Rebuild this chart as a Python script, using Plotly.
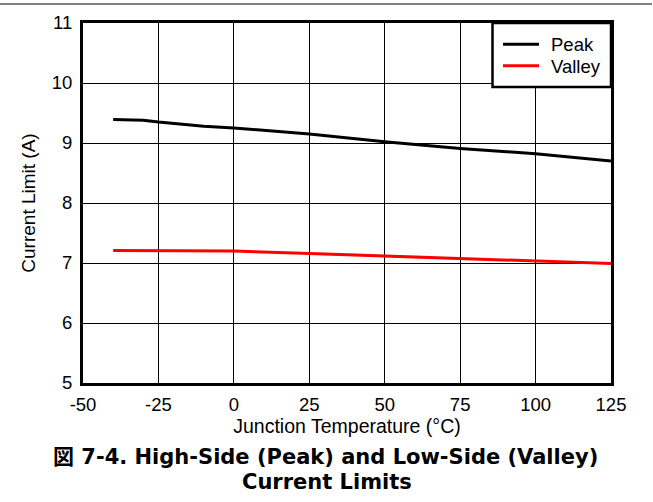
import plotly.graph_objects as go

temp = [-40, -30, -25, -10, 0, 25, 50, 75, 100, 125]
peak = [9.39, 9.38, 9.35, 9.28, 9.25, 9.15, 9.02, 8.91, 8.82, 8.70]
valley_temp = [-40, -20, 0, 25, 50, 75, 100, 125]
valley = [7.21, 7.21, 7.2, 7.16, 7.12, 7.07, 7.03, 6.99]

series_names = ["Peak", "Valley"]
series_colors = ["black", "#ff0000"]

x_ticks = [-50, -25, 0, 25, 50, 75, 100, 125]
y_ticks = [5, 6, 7, 8, 9, 10, 11]

FONT = "Arial, 'Liberation Sans', 'Noto Sans CJK JP', sans-serif"
TFONT = "'DejaVu Sans', 'Noto Sans CJK JP', sans-serif"

# plot area in page pixels
L, R, T, B = 83, 611, 23, 383
W, H = 653, 502
def px(p):
    return (p - L) / (R - L)
def py(p):
    return (B - p) / (B - T)

fig = go.Figure()
fig.add_trace(go.Scatter(x=temp, y=peak, mode="lines", name=series_names[0],
                         line=dict(color=series_colors[0], width=3)))
fig.add_trace(go.Scatter(x=valley_temp, y=valley, mode="lines", name=series_names[1],
                         line=dict(color=series_colors[1], width=3)))

shapes = [
    # gray rule at the top of the page
    dict(type="line", xref="paper", yref="paper", x0=px(0), x1=px(652), y0=py(4), y1=py(4),
         line=dict(color="#808080", width=2)),
    # legend box
    dict(type="rect", xref="paper", yref="paper", x0=px(492.5), x1=px(611), y0=py(87), y1=py(23),
         line=dict(color="black", width=2.5), fillcolor="white", layer="above"),
]
annotations = []
for i, (nm, col) in enumerate(zip(series_names, series_colors)):
    yc = 44.3 + i * 21.5
    shapes.append(dict(type="line", xref="paper", yref="paper", x0=px(503), x1=px(539),
                       y0=py(yc), y1=py(yc), line=dict(color=col, width=3), layer="above"))
    annotations.append(dict(text=nm, xref="paper", yref="paper", x=px(549), y=py(yc + 0.5),
                            xanchor="left", yanchor="middle", showarrow=False,
                            font=dict(size=18.5, family=FONT, color="black")))

annotations.append(dict(text="<b>図 7-4. High-Side (Peak) and Low-Side (Valley)</b>",
                        xref="paper", yref="paper", x=px(325), y=py(457),
                        xanchor="center", yanchor="middle", showarrow=False,
                        font=dict(size=21, family=TFONT, color="black")))
annotations.append(dict(text="<b>Current Limits</b>",
                        xref="paper", yref="paper", x=px(327), y=py(481.5),
                        xanchor="center", yanchor="middle", showarrow=False,
                        font=dict(size=21, family=TFONT, color="black")))

fig.update_layout(
    width=W, height=H,
    margin=dict(l=L, r=W - R, t=T, b=H - B, autoexpand=False),
    paper_bgcolor="white", plot_bgcolor="white",
    font=dict(family=FONT, size=18.5, color="black"),
    showlegend=False,
    xaxis=dict(range=[-50, 125], tickvals=x_ticks, ticktext=[str(v) for v in x_ticks],
               showgrid=True, gridcolor="black", gridwidth=1,
               showline=True, linecolor="black", linewidth=3, mirror=True,
               ticks="", zeroline=False, automargin=False, ticklabelstandoff=3,
               tickfont=dict(size=18.5),
               title=dict(text="Junction Temperature (°C)", font=dict(size=19.5), standoff=0)),
    yaxis=dict(range=[5, 11], tickvals=y_ticks, ticktext=[str(v) for v in y_ticks],
               showgrid=True, gridcolor="black", gridwidth=1,
               showline=True, linecolor="black", linewidth=3, mirror=True,
               ticks="", zeroline=False, automargin=False, ticklabelstandoff=4,
               tickfont=dict(size=18.5),
               title=dict(text="Current Limit (A)", font=dict(size=19), standoff=12)),
    shapes=shapes,
    annotations=annotations,
)

fig.write_html("out.html", config={"displayModeBar": False},
               post_script="document.body.style.margin='0px';")
